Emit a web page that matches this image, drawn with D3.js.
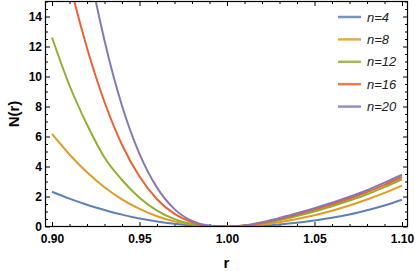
<!DOCTYPE html>
<html>
<head>
<meta charset="utf-8">
<script src="https://cdn.jsdelivr.net/npm/d3@7"></script>
<style>
  body { margin: 0; background: #fff; }
  .tick text { font-family: "Liberation Sans", Arial, sans-serif; font-weight: bold; font-size: 12px; fill: #000; }
  .tick line { stroke: #000; stroke-width: 1; }
  .title { font-family: "Liberation Sans", Arial, sans-serif; font-weight: bold; font-size: 15px; fill: #000; }
  .legend text { font-family: "Liberation Sans", Arial, sans-serif; font-style: italic; font-size: 13px; fill: #222; }
</style>
</head>
<body>
<div id="chart"></div>
<script>
// r values read at 0.01 steps
var rValues = [0.90, 0.91, 0.92, 0.93, 0.94, 0.95, 0.96, 0.97, 0.98, 0.99, 1.00,
               1.01, 1.02, 1.03, 1.04, 1.05, 1.06, 1.07, 1.08, 1.09, 1.10];

var n4  = [2.32, 1.86, 1.45, 1.10, 0.79, 0.54, 0.34, 0.19, 0.08, 0.02, 0,
           0.015, 0.06, 0.14, 0.25, 0.40, 0.58, 0.80, 1.08, 1.40, 1.78];
var n8  = [6.17, 4.80, 3.61, 2.62, 1.81, 1.17, 0.68, 0.34, 0.13, 0.02, 0,
           0.03, 0.13, 0.29, 0.50, 0.75, 1.05, 1.40, 1.80, 2.24, 2.72];
var n12 = [12.6, 9.4, 6.8, 4.6, 3.1, 1.92, 1.06, 0.49, 0.16, 0.03, 0,
           0.05, 0.20, 0.42, 0.70, 1.00, 1.35, 1.73, 2.15, 2.63, 3.15];
var n16 = [21.6, 16.3, 11.9, 8.3, 5.45, 3.33, 1.82, 0.84, 0.28, 0.03, 0,
           0.06, 0.24, 0.50, 0.80, 1.13, 1.48, 1.87, 2.30, 2.78, 3.30];
var n20 = [34, 25, 18.0, 12.4, 8.05, 4.84, 2.59, 1.16, 0.37, 0.05, 0,
           0.07, 0.28, 0.57, 0.88, 1.22, 1.58, 1.98, 2.42, 2.92, 3.45];

var seriesNames = ["n=4", "n=8", "n=12", "n=16", "n=20"];
var seriesValues = [n4, n8, n12, n16, n20];
var colors = ["#5e81b5", "#e19c24", "#8fb032", "#eb6235", "#8778b3"];

var xTicks = [0.90, 0.95, 1.00, 1.05, 1.10];
var yTicks = [0, 2, 4, 6, 8, 10, 12, 14];

function init() {
    var w = 415, h = 271;
    var frame = { left: 45.5, right: 407.5, top: 1.5, bottom: 226.5 };

    var xScale = d3.scaleLinear().domain([0.9, 1.1]).range([52, 402]);
    var yScale = d3.scaleLinear().domain([0, 15]).range([frame.bottom, frame.top]);

    var svg = d3.select("#chart").append("svg")
        .attr("width", w)
        .attr("height", h);

    svg.append("clipPath").attr("id", "plotClip")
        .append("rect")
        .attr("x", frame.left).attr("y", frame.top)
        .attr("width", frame.right - frame.left)
        .attr("height", frame.bottom - frame.top);

    // minor ticks
    var xMinor = d3.range(0.90, 1.1001, 0.01).filter(function(v) {
        return Math.abs(v * 20 - Math.round(v * 20)) > 1e-6;
    });
    var yMinor = d3.range(0, 15.01, 0.5).filter(function(v) { return v % 2 !== 0; });

    function fmt(v) { return v.toFixed(2); }

    // bottom axis
    svg.append("g").attr("transform", "translate(0," + frame.bottom + ")")
        .call(d3.axisBottom(xScale).tickValues(xTicks).tickFormat(fmt)
            .tickSizeInner(-4.5).tickSizeOuter(0).tickPadding(7.5))
        .call(function(g) { g.select(".domain").remove(); });
    svg.append("g").attr("transform", "translate(0," + frame.bottom + ")")
        .call(d3.axisBottom(xScale).tickValues(xMinor).tickFormat("")
            .tickSizeInner(-2.5).tickSizeOuter(0))
        .call(function(g) { g.select(".domain").remove(); });

    // top axis (no labels)
    svg.append("g").attr("transform", "translate(0," + frame.top + ")")
        .call(d3.axisTop(xScale).tickValues(xTicks).tickFormat("")
            .tickSizeInner(-4.5).tickSizeOuter(0))
        .call(function(g) { g.select(".domain").remove(); });
    svg.append("g").attr("transform", "translate(0," + frame.top + ")")
        .call(d3.axisTop(xScale).tickValues(xMinor).tickFormat("")
            .tickSizeInner(-2.5).tickSizeOuter(0))
        .call(function(g) { g.select(".domain").remove(); });

    // left axis
    svg.append("g").attr("transform", "translate(" + frame.left + ",0)")
        .call(d3.axisLeft(yScale).tickValues(yTicks).tickFormat(d3.format("d"))
            .tickSizeInner(-4.5).tickSizeOuter(0).tickPadding(3.5))
        .call(function(g) { g.select(".domain").remove(); });
    svg.append("g").attr("transform", "translate(" + frame.left + ",0)")
        .call(d3.axisLeft(yScale).tickValues(yMinor).tickFormat("")
            .tickSizeInner(-2.5).tickSizeOuter(0))
        .call(function(g) { g.select(".domain").remove(); });

    // right axis (no labels)
    svg.append("g").attr("transform", "translate(" + frame.right + ",0)")
        .call(d3.axisRight(yScale).tickValues(yTicks).tickFormat("")
            .tickSizeInner(-4.5).tickSizeOuter(0))
        .call(function(g) { g.select(".domain").remove(); });
    svg.append("g").attr("transform", "translate(" + frame.right + ",0)")
        .call(d3.axisRight(yScale).tickValues(yMinor).tickFormat("")
            .tickSizeInner(-2.5).tickSizeOuter(0))
        .call(function(g) { g.select(".domain").remove(); });

    // curves
    var line = d3.line()
        .x(function(d, i) { return xScale(rValues[i]); })
        .y(function(d) { return yScale(d); })
        .curve(d3.curveMonotoneX);

    svg.append("g").attr("clip-path", "url(#plotClip)")
        .selectAll("path")
        .data(seriesValues)
        .enter().append("path")
        .attr("d", line)
        .attr("fill", "none")
        .attr("stroke", function(d, i) { return colors[i]; })
        .attr("stroke-width", 2);

    // frame
    svg.append("rect")
        .attr("x", frame.left).attr("y", frame.top)
        .attr("width", frame.right - frame.left)
        .attr("height", frame.bottom - frame.top)
        .attr("fill", "none")
        .attr("stroke", "#000")
        .attr("stroke-width", 1.2);

    // axis titles
    svg.append("text").attr("class", "title")
        .attr("x", (frame.left + frame.right) / 2)
        .attr("y", 268)
        .attr("text-anchor", "middle")
        .text("r");

    svg.append("text").attr("class", "title")
        .attr("transform", "translate(19," + ((frame.top + frame.bottom) / 2) + ") rotate(-90)")
        .attr("text-anchor", "middle")
        .text("N(r)");

    // legend
    var legend = svg.append("g").attr("class", "legend");
    var rows = legend.selectAll("g").data(seriesNames).enter().append("g")
        .attr("transform", function(d, i) { return "translate(338," + (17 + i * 22.4) + ")"; });
    rows.append("line")
        .attr("x1", 0).attr("x2", 23)
        .attr("stroke", function(d, i) { return colors[i]; })
        .attr("stroke-width", 2.5)
        .attr("stroke-opacity", 0.85);
    rows.append("text")
        .attr("x", 29)
        .attr("dy", "0.35em")
        .text(function(d) { return d; });
}

window.onload = init;
</script>
</body>
</html>
